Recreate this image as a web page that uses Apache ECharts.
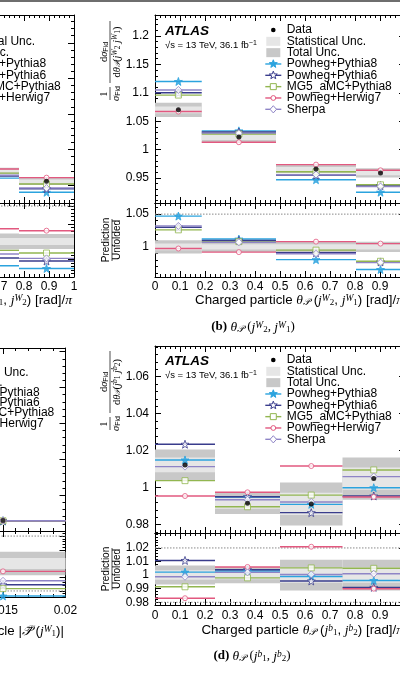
<!DOCTYPE html>
<html>
<head>
<meta charset="utf-8">
<script src="https://cdn.jsdelivr.net/npm/echarts@6/dist/echarts.min.js"></script>
<style>
  html, body { margin: 0; padding: 0; background: #fff; }
  #main { width: 400px; height: 675px; }
</style>
</head>
<body>
<div id="main"></div>
<script>
// ---------------- data ----------------
const models = ['Powheg+Pythia8', 'Powheg+Pythia6', 'MG5_aMC+Pythia8', 'Powheg+Herwig7', 'Sherpa'];

// (a) only the last two bins are inside the picture
const aBins = [0.5, 0.78, 1];
const aData = [0.970, 0.9554];
const aTotUnc = [0.0045, 0.005];
const aStatUnc = [0.002, 0.0025];
const aMainPred = [            // rows follow the models order
  [0.960, 0.940],
  [0.963, 0.945],
  [0.967, 0.9517],
  [0.9728, 0.9606],
  [0.964, 0.946]
];
const aRatioTotUnc = [0.0045, 0.0042];
const aRatioStatUnc = [0.002, 0.002];
const aRatioPred = [
  [0.9863, 0.9848],
  [0.9907, 0.989],
  [0.995, 0.9935],
  [1.0072, 1.0061],
  [0.993, 0.9905]
];

// (b) theta_P(j2W, j1W)
const bBins = [0, 0.187, 0.484, 0.804, 1];
const bData = [1.070, 1.022, 0.966, 0.959];
const bTotUnc = [0.0125, 0.010, 0.0075, 0.008];
const bStatUnc = [0.006, 0.005, 0.0035, 0.004];
const bMainPred = [
  [1.120, 1.033, 0.947, 0.925],
  [1.100, 1.031, 0.955, 0.9366],
  [1.096, 1.0275, 0.961, 0.938],
  [1.067, 1.013, 0.9736, 0.9636],
  [1.105, 1.029, 0.956, 0.935]
];
const bRatioTotUnc = [0.010, 0.008, 0.008, 0.008];
const bRatioStatUnc = [0.005, 0.004, 0.004, 0.004];
const bRatioPred = [
  [1.047, 1.012, 0.9805, 0.9655],
  [1.030, 1.010, 0.991, 0.977],
  [1.026, 1.008, 0.995, 0.978],
  [0.9975, 0.992, 1.008, 1.005],
  [1.032, 1.007, 0.9895, 0.976]
];

// (c) |P(j1W)|, only the last bin is inside the picture
const cBins = [0.01, 0.02];
const cData = [0.29];
const cTotUnc = [0.004];
const cStatUnc = [0.002];
const cMainPred = [[0.283], [0.2855], [0.2847], [0.2883], [0.2864]];
const cRatioTotUnc = [0.0086];
const cRatioStatUnc = [0.004];
const cRatioPred = [[0.9763], [0.9845], [0.9817], [0.9943], [0.9874]];

// (d) theta_P(j1b, j2b)
const dBins = [0, 0.24, 0.5, 0.75, 1];
const dData = [1.0123, 0.9916, 0.9912, 1.0049];
const dTotUnc = [0.0083, 0.0058, 0.0116, 0.0114];
const dStatUnc = [0.004, 0.003, 0.006, 0.006];
const dMainPred = [
  [1.015, 0.995, 0.991, 1.000],
  [1.0235, 0.9951, 0.9865, 0.9955],
  [1.0038, 0.9897, 0.996, 1.0096],
  [0.9955, 0.9975, 1.0117, 0.995],
  [1.0114, 0.9935, 0.9923, 1.006]
];
const dRatioTotUnc = [0.007, 0.006, 0.0114, 0.0114];
const dRatioStatUnc = [0.0035, 0.003, 0.0057, 0.0057];
const dRatioPred = [
  [1.0022, 1.003, 0.999, 0.996],
  [1.0108, 1.004, 0.9957, 0.991],
  [0.9914, 0.998, 1.0053, 1.005],
  [0.983, 1.006, 1.0209, 0.990],
  [0.9988, 1.002, 1.0005, 1.001]
];

// axis ranges and ticks
const thetaRange = [0, 1];
const thetaStep = 0.1;
const pRange = [0, 0.02];
const pStep = 0.005;
const aMainRange = [0.925, 1.189], aMainTicks = [0.95, 1, 1.05, 1.1, 1.15];
const aRatioRange = [0.98, 1.0217], aRatioTicks = [0.98, 0.99, 1, 1.01, 1.02];
const bMainRange = [0.906, 1.237], bMainTicks = [0.95, 1, 1.05, 1.1, 1.15, 1.2];
const bRatioRange = [0.954, 1.067], bRatioTicks = [1, 1.05];
const cMainRange = [0, 5.1], cMainTicks = [0, 1, 2, 3, 4, 5];
const cRatioRange = [0.9756, 1.0237], cRatioTicks = [0.98, 0.99, 1, 1.01, 1.02];
const dMainRange = [0.9755, 1.0766], dMainTicks = [0.98, 1, 1.02, 1.04, 1.06];
const dRatioRange = [0.978, 1.031], dRatioTicks = [0.98, 0.99, 1, 1.01, 1.02];
const aRef = [1.02], bRef = [1.05], cRef = [0.98, 1.02], dRef = [0.98, 1.02];

// ---------------- style ----------------
const FONT = 'Liberation Sans, Arial, sans-serif';
const SERIF = 'Liberation Serif, DejaVu Serif, serif';
const colors = ['#2ba3de', '#393c8c', '#92b650', '#e2587f', '#8e84c6'];
const TOT_C = '#c8c8c8', STAT_C = '#e6e6e6';
const STAR = 'path://M0,-10L2.35,-3.24L9.51,-3.09L3.8,1.24L5.88,8.09L0,4.2L-5.88,8.09L-3.8,1.24L-9.51,-3.09L-2.35,-3.24Z';
const symbols = [STAR, STAR, 'rect', 'circle', 'diamond'];
const symSizes = [8, 8, 6, 5, 7];
const filled = [true, false, false, false, false];

const chart = echarts.init(document.getElementById('main'), null, {renderer: 'canvas'});
const grids = [], xAxes = [], yAxes = [], series = [];

function minorList(range, step) {
  const out = [];
  for (let k = Math.ceil(range[0] / step - 1e-9); k * step <= range[1] + 1e-9; k++) out.push(+(k * step).toFixed(6));
  return out;
}

function addGrid(box, xRange, xStep, showX, xMargin, yRange, yTicks, yMinor, showY, lineW) {
  const g = grids.length;
  grids.push({left: box.left, top: box.top, width: box.width, height: box.height,
    containLabel: false, outerBoundsMode: 'none'});
  const xi = xAxes.length;
  ['bottom', 'top'].forEach((pos, k) => xAxes.push({
    type: 'value', gridIndex: g, position: pos, min: xRange[0], max: xRange[1], interval: xStep,
    axisLine: {show: true, onZero: false, lineStyle: {color: '#000', width: lineW[k]}},
    axisTick: {show: true, inside: true, length: 6, lineStyle: {color: '#000', width: 1}},
    minorTick: {show: true, splitNumber: 5, length: 3, lineStyle: {color: '#000', width: 1}},
    axisLabel: {show: showX && k === 0, color: '#000', fontSize: 12, fontFamily: FONT, margin: xMargin},
    splitLine: {show: false}
  }));
  const yi = yAxes.length;
  const minors = minorList(yRange, yMinor);
  ['left', 'right'].forEach((pos, k) => {
    yAxes.push({
      type: 'value', gridIndex: g, position: pos, min: yRange[0], max: yRange[1],
      axisLine: {show: true, onZero: false, lineStyle: {color: '#000', width: 1}},
      axisTick: {show: true, inside: true, length: 6, customValues: yTicks, lineStyle: {color: '#000'}},
      axisLabel: {show: showY && k === 0, customValues: yTicks, color: '#000', fontSize: 12, fontFamily: FONT, margin: 6},
      splitLine: {show: false}
    });
    yAxes.push({
      type: 'value', gridIndex: g, position: pos, min: yRange[0], max: yRange[1],
      axisLine: {show: false, onZero: false},
      axisTick: {show: true, inside: true, length: 3, customValues: minors, lineStyle: {color: '#000'}},
      axisLabel: {show: false},
      splitLine: {show: false}
    });
  });
  return {xi, yi, xMin: xRange[0]};
}

function bandItem(params, api) {
  const p0 = api.coord([api.value(0), api.value(3)]);
  const p1 = api.coord([api.value(1), api.value(2)]);
  return {type: 'rect', shape: {x: p0[0], y: p0[1], width: p1[0] - p0[0], height: p1[1] - p0[1]},
    style: {fill: api.visual('color')}};
}
function segItem(params, api) {
  const p0 = api.coord([api.value(0), api.value(2)]);
  const p1 = api.coord([api.value(1), api.value(2)]);
  return {type: 'line', shape: {x1: p0[0], y1: p0[1], x2: p1[0], y2: p1[1]},
    style: {stroke: api.visual('color'), lineWidth: 1.4}};
}
function refItem(params, api) {
  const cs = params.coordSys;
  const y = api.coord([api.value(0), api.value(1)])[1];
  return {type: 'line', shape: {x1: cs.x, y1: y, x2: cs.x + cs.width, y2: y},
    style: {stroke: '#8a8a8a', lineWidth: 1, lineDash: [1.5, 1.5]}};
}

function addPanel(ax, bins, centers, tot, stat, preds, data, refs) {
  const on = {xAxisIndex: ax.xi, yAxisIndex: ax.yi, silent: true, animation: false};
  [[tot, TOT_C], [stat, STAT_C]].forEach(([u, c]) => series.push(Object.assign({
    type: 'custom', renderItem: bandItem, itemStyle: {color: c}, z: 1,
    encode: {x: [0, 1], y: [2, 3]},
    data: centers.map((v, i) => [bins[i], bins[i + 1], v - u[i], v + u[i]])
  }, on)));
  if (refs.length) series.push(Object.assign({
    type: 'custom', renderItem: refItem, z: 2, encode: {x: 0, y: 1},
    data: refs.map(v => [ax.xMin, v])
  }, on));
  preds.forEach((vals, m) => {
    series.push(Object.assign({
      type: 'custom', renderItem: segItem, itemStyle: {color: colors[m]}, z: 3,
      encode: {x: [0, 1], y: 2},
      data: vals.map((v, i) => [bins[i], bins[i + 1], v])
    }, on));
    series.push(Object.assign({
      type: 'scatter', symbol: symbols[m], symbolSize: symSizes[m], z: 4, clip: false,
      itemStyle: {color: filled[m] ? colors[m] : '#fff', borderColor: colors[m], borderWidth: 1},
      data: vals.map((v, i) => [(bins[i] + bins[i + 1]) / 2, v])
    }, on));
  });
  if (data) series.push(Object.assign({
    type: 'scatter', symbol: 'circle', symbolSize: 5, z: 5, clip: false,
    itemStyle: {color: '#000'},
    data: data.map((v, i) => [(bins[i] + bins[i + 1]) / 2, v])
  }, on));
}
const ones = n => Array.from({length: n}, () => 1);

// panel (a)
let ax = addGrid({left: -176, top: 15, width: 250, height: 188}, thetaRange, thetaStep, false, 4, aMainRange, aMainTicks, 0.01, false, [1.2, 1]);
addPanel(ax, aBins, aData, aTotUnc, aStatUnc, aMainPred, aData, []);
ax = addGrid({left: -176, top: 203, width: 250, height: 74}, thetaRange, thetaStep, true, 4, aRatioRange, aRatioTicks, 0.002, false, [1, 1.2]);
addPanel(ax, aBins, ones(2), aRatioTotUnc, aRatioStatUnc, aRatioPred, null, aRef);
// panel (b)
ax = addGrid({left: 155, top: 15, width: 250, height: 188}, thetaRange, thetaStep, false, 4, bMainRange, bMainTicks, 0.01, true, [1.2, 1]);
addPanel(ax, bBins, bData, bTotUnc, bStatUnc, bMainPred, bData, []);
ax = addGrid({left: 155, top: 203, width: 250, height: 74}, thetaRange, thetaStep, true, 4, bRatioRange, bRatioTicks, 0.01, true, [1, 1.2]);
addPanel(ax, bBins, ones(4), bRatioTotUnc, bRatioStatUnc, bRatioPred, null, bRef);
// panel (c)
ax = addGrid({left: -184.5, top: 348, width: 250, height: 183}, pRange, pStep, false, 8, cMainRange, cMainTicks, 0.2, false, [1.2, 1]);
addPanel(ax, cBins, cData, cTotUnc, cStatUnc, cMainPred, cData, []);
ax = addGrid({left: -184.5, top: 531, width: 250, height: 66}, pRange, pStep, true, 8, cRatioRange, cRatioTicks, 0.002, false, [1, 1.2]);
addPanel(ax, cBins, ones(1), cRatioTotUnc, cRatioStatUnc, cRatioPred, null, cRef);
// panel (d)
ax = addGrid({left: 155, top: 346, width: 250, height: 187}, thetaRange, thetaStep, false, 4, dMainRange, dMainTicks, 0.004, true, [1.2, 1]);
addPanel(ax, dBins, dData, dTotUnc, dStatUnc, dMainPred, dData, []);
ax = addGrid({left: 155, top: 533, width: 250, height: 72}, thetaRange, thetaStep, true, 5, dRatioRange, dRatioTicks, 0.002, true, [1, 1.2]);
addPanel(ax, dBins, ones(4), dRatioTotUnc, dRatioStatUnc, dRatioPred, null, dRef);

// ---------------- text and legends ----------------
const mathRich = {
  it: {fontFamily: SERIF, fontStyle: 'italic', fontSize: 13.5},
  sc: {fontFamily: SERIF, fontStyle: 'italic', fontSize: 9.5, verticalAlign: 'bottom'},
  sp: {fontFamily: SERIF, fontStyle: 'italic', fontSize: 9.5, verticalAlign: 'top'},
  sb: {fontFamily: SERIF, fontSize: 9, verticalAlign: 'bottom'},
  bd: {fontFamily: SERIF, fontWeight: 'bold', fontSize: 13}
};
function txt(x, y, text, opt) {
  return {type: 'text', x, y, style: Object.assign({text, fill: '#000', fontFamily: FONT, fontSize: 12,
    verticalAlign: 'middle', rich: mathRich}, opt || {})};
}
function starPts(cx, cy, R) {
  const pts = [];
  for (let k = 0; k < 10; k++) {
    const r = k % 2 ? R * 0.42 : R, a = -Math.PI / 2 + k * Math.PI / 5;
    pts.push([cx + r * Math.cos(a), cy + r * Math.sin(a)]);
  }
  return pts;
}
function legendMarker(m, cx, cy) {
  const st = {fill: filled[m] ? colors[m] : '#fff', stroke: colors[m], lineWidth: 1};
  if (m < 2) return {type: 'polygon', shape: {points: starPts(cx, cy, 4.2)}, style: st};
  if (m === 2) return {type: 'rect', shape: {x: cx - 3, y: cy - 3, width: 6, height: 6}, style: st};
  if (m === 3) return {type: 'circle', shape: {cx, cy, r: 2.4}, style: st};
  return {type: 'polygon', shape: {points: [[cx, cy - 3.6], [cx + 3.2, cy], [cx, cy + 3.6], [cx - 3.2, cy]]}, style: st};
}
function legend(cx, y0, step, textX) {
  const els = [];
  ['Data', 'Statistical Unc.', 'Total Unc.'].concat(models).forEach((t, i) => {
    const y = y0 + i * step;
    els.push(txt(textX, y, t));
    if (i === 0) els.push({type: 'circle', shape: {cx, cy: y, r: 2.3}, style: {fill: '#000'}});
    else if (i < 3) els.push({type: 'rect', shape: {x: cx - 7, y: y - 4.5, width: 14, height: 9}, style: {fill: i === 1 ? STAT_C : TOT_C}});
    else {
      els.push({type: 'line', shape: {x1: cx - 8, y1: y, x2: cx + 8, y2: y}, style: {stroke: colors[i - 3], lineWidth: 1.4}});
      els.push(legendMarker(i - 3, cx, y));
    }
  });
  return els;
}
function atlas(x, y) {
  return [
    txt(x, y, 'ATLAS', {fontSize: 13.5, fontWeight: 'bold', fontStyle: 'italic'}),
    txt(x, y + 13.5, '√s = 13 TeV, 36.1 fb{e|−1}', {fontSize: 9.5,
      rich: {e: {fontSize: 7, verticalAlign: 'top'}}})
  ];
}
const fracRich = {
  it: {fontFamily: SERIF, fontStyle: 'italic', fontSize: 10.5},
  sb: {fontFamily: FONT, fontSize: 7, verticalAlign: 'bottom'},
  sc: {fontFamily: SERIF, fontStyle: 'italic', fontSize: 7.5, verticalAlign: 'bottom'},
  sp: {fontFamily: SERIF, fontStyle: 'italic', fontSize: 7.5, verticalAlign: 'top'},
  n: {fontFamily: SERIF, fontSize: 7.5, verticalAlign: 'bottom'}
};
function yTitle(xBar, yBottom, denom) {
  const st = o => Object.assign({fill: '#000', fontFamily: SERIF, fontSize: 10.5, align: 'center', verticalAlign: 'middle', rich: fracRich}, o);
  return {type: 'group', x: xBar, y: yBottom, rotation: Math.PI / 2, children: [
    {type: 'text', x: 8, y: -6, style: st({text: '1'})},
    {type: 'line', shape: {x1: 2, y1: 0, x2: 15, y2: 0}, style: {stroke: '#000', lineWidth: 0.7}},
    {type: 'text', x: 8.5, y: 6, style: st({text: '{it|σ}{sb|Fid}'})},
    {type: 'text', x: 50, y: -6, style: st({text: 'd{it|σ}{sb|Fid}'})},
    {type: 'line', shape: {x1: 19, y1: 0, x2: 81, y2: 0}, style: {stroke: '#000', lineWidth: 0.7}},
    {type: 'text', x: 50, y: 7, style: st({text: denom})}
  ]};
}
function rTitle(xBar, yCenter) {
  const st = t => ({text: t, fill: '#000', fontFamily: FONT, fontSize: 10, align: 'center', verticalAlign: 'middle'});
  return {type: 'group', x: xBar, y: yCenter, rotation: Math.PI / 2, children: [
    {type: 'text', x: 0, y: -5.5, style: st('Prediction')},
    {type: 'line', shape: {x1: -21, y1: 0, x2: 21, y2: 0}, style: {stroke: '#000', lineWidth: 0.7}},
    {type: 'text', x: 0, y: 5.5, style: st('Unfolded')}
  ]};
}

const graphics = [
  {type: 'rect', shape: {x: 0, y: 0, width: 400, height: 2}, style: {fill: '#6e6e6e'}},
  ...legend(-57.7, 30, 11.33, -44.3),
  ...legend(273.3, 30, 11.33, 286.7),
  ...legend(-64.2, 362, 10.2, -50.8),
  ...legend(273.3, 360, 11.33, 286.7),
  ...atlas(165, 31.5),
  ...atlas(165, 361.5),
  yTitle(110, 102, 'd{it|θ}{sc|𝒫}({it|j}{sp|W}{n|2} {it|j}{sp|W}{n|1})'),
  yTitle(110, 432, 'd{it|θ}{sc|𝒫}({it|j}{sp|b}{n|1} {it|j}{sp|b}{n|2})'),
  rTitle(112, 240),
  rTitle(112, 569),
  txt(72, 300, 'Charged particle {it|θ}{sc|𝒫} ({it|j}{sp|W}{sb|1}, {it|j}{sp|W}{sb|2}) [rad]/{it|π}', {align: 'right', fontSize: 13.3}),
  txt(403, 300, 'Charged particle {it|θ}{sc|𝒫} ({it|j}{sp|W}{sb|2}, {it|j}{sp|W}{sb|1}) [rad]/{it|π}', {align: 'right', fontSize: 13.3}),
  txt(64, 631, 'Charged particle |{it|𝒫⃗} ({it|j}{sp|W}{sb|1})|', {align: 'right', fontSize: 13.3}),
  txt(403, 630, 'Charged particle {it|θ}{sc|𝒫} ({it|j}{sp|b}{sb|1}, {it|j}{sp|b}{sb|2}) [rad]/{it|π}', {align: 'right', fontSize: 13.3}),
  txt(253, 327, '{bd|(b)} {it|θ}{sc|𝒫} ({it|j}{sp|W}{sb|2}, {it|j}{sp|W}{sb|1})', {align: 'center', fontFamily: SERIF, fontSize: 13}),
  txt(252, 656, '{bd|(d)} {it|θ}{sc|𝒫} ({it|j}{sp|b}{sb|1}, {it|j}{sp|b}{sb|2})', {align: 'center', fontFamily: SERIF, fontSize: 13})
];

chart.setOption({
  animation: false,
  backgroundColor: '#fff',
  grid: grids,
  xAxis: xAxes,
  yAxis: yAxes,
  series: series,
  graphic: {elements: graphics}
});
</script>
</body>
</html>
